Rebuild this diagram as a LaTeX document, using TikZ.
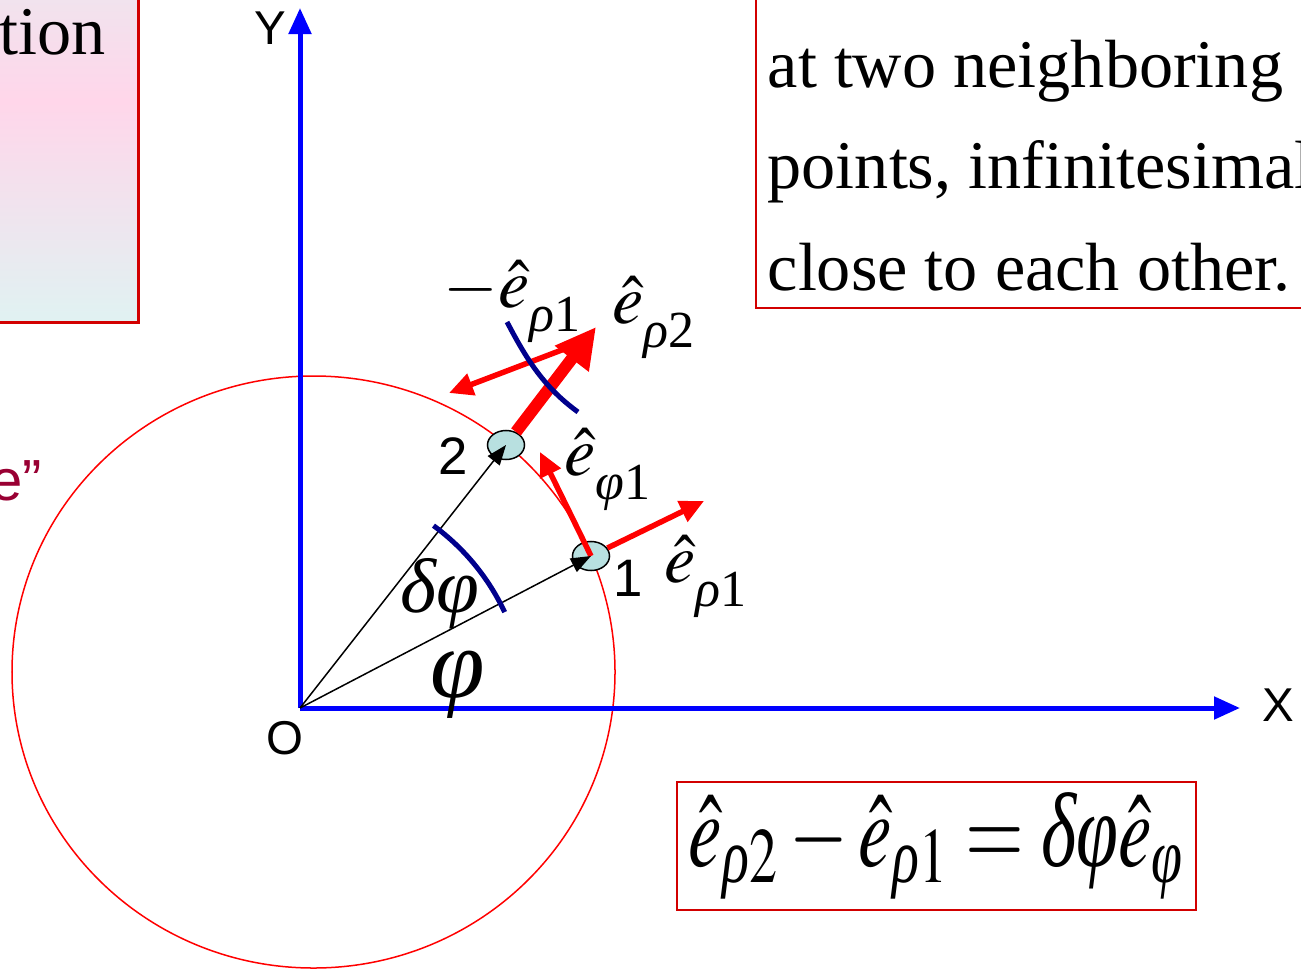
\documentclass[tikz,border=0pt]{standalone}
\usepackage{mathptmx}
\usepackage{amsmath}
\usepackage{graphicx}
\usepackage{fontspec}
\setmainfont{Liberation Serif}
\newfontfamily\arialfont{Liberation Sans}
\usetikzlibrary{positioning,arrows.meta,shapes.geometric}
\newcommand{\grk}[1]{\textit{#1}}
% unit vector with a low-set index
\newcommand{\uvec}[1]{\hat{e}_{\text{\raisebox{-0.6ex}{#1}}}}
\definecolor{axisblue}{RGB}{0,0,255}
\definecolor{arcnavy}{RGB}{0,0,140}
\definecolor{ptfill}{RGB}{184,224,224}
\definecolor{boxred}{RGB}{210,0,0}
\definecolor{quotered}{RGB}{153,0,51}
\definecolor{shpink}{RGB}{255,214,234}
\definecolor{shcyan}{RGB}{224,242,242}
\tikzset{
  axisln/.style={-{Triangle[length=2.6mm,width=2.2mm]},line width=0.5mm,axisblue},
  ray/.style={-{Triangle[length=2mm,width=1.5mm]},line width=0.15mm,black},
  pnt/.style={ellipse,draw=black,fill=ptfill,minimum width=3.7mm,minimum height=2.9mm,inner sep=0pt,line width=0.15mm},
  unitvec/.style={red,line width=0.55mm,-{Triangle[length=2.4mm,width=2.2mm]}},
  bigvec/.style={red,line width=1.2mm,-{Triangle[length=4mm,width=4mm]}},
  angarc/.style={arcnavy,line width=0.5mm},
  sanslbl/.style={font=\arialfont\fontsize{15}{18}\selectfont,inner sep=0pt},
  axlbl/.style={font=\arialfont\fontsize{13.5}{16}\selectfont,inner sep=0pt},
  veclbl/.style={font=\fontsize{20}{24}\selectfont,inner sep=0pt,anchor=base west},
  txtline/.style={font=\fontsize{19.4}{28}\selectfont,inner sep=0pt,anchor=base west},
  framebox/.style={draw=boxred,line width=0.2mm},
}
\begin{document}
\begin{tikzpicture}[x=0.01cm,y=-0.01cm]
  \clip (0,0) rectangle (1301,970);
  % boxes cut by the page edge
  \draw[framebox,line width=0.3mm,top color=shcyan,bottom color=shcyan,middle color=shpink]
    (-60,-120) rectangle (138,322);
  \node[txtline,anchor=base east] (tion) at (106,55) {tion};
  \node[font=\arialfont\fontsize{16.5}{20}\selectfont,text=quotered,inner sep=0pt,anchor=base east]
    (quote) at (43,500) {e”};
  \draw[framebox] (756,-60) rectangle (1360,308);
  \node[txtline] (line1) at (767,88) {at two neighboring};
  \node[txtline] (line2) at (767,188) {points, infinitesimally};
  \node[txtline] (line3) at (767,290) {close to each other.};

  % axes and circle
  \coordinate (O) at (300,708);
  \coordinate (ytip) at (300,8);
  \coordinate (xtip) at (1240,708);
  \draw[red,line width=0.15mm] (313.5,672) ellipse [x radius=301.5,y radius=296];
  \draw[axisln] (O) -- (ytip);
  \draw[axisln] (O) -- (xtip);
  \node[axlbl] (ylbl) at (270,28) {Y};
  \node[axlbl] (xlbl) at (1278,705) {X};
  \node[axlbl] (olbl) at (285,738) {O};

  % the two points and their unit vectors
  \node[pnt] (p1) at (591,556) {};
  \node[pnt] (p2) at (506,445) {};
  \coordinate (rho2tip) at (596,327);
  \coordinate (mrho1start) at (567,348);
  \coordinate (mrho1tip) at (449,393);
  \coordinate (phi1tip) at (540,452);
  \coordinate (rho1tip) at (704,501);
  \draw[bigvec] (p2) -- (rho2tip);
  \draw[unitvec] (mrho1start) -- (mrho1tip);
  \draw[unitvec] (p1) -- (rho1tip);
  \draw[unitvec] (p1.center) -- (phi1tip);
  \draw[ray] (O) -- (p1.center);
  \draw[ray] (O) -- (p2.center);

  % angle marks
  \draw[angarc] (O) ++(-25.1:226) arc[start angle=-25.1,end angle=-53.8,radius=226];
  \draw[angarc] (507,322) .. controls (525,356) and (542,386) .. (578,412);

  % labels
  \node[sanslbl] (n1) at (628,578) {1};
  \node[sanslbl] (n2) at (453,456) {2};
  \node[veclbl] (lmrho1) at (443,307) {$-\uvec{\grk{ρ}1}$};
  \node[veclbl] (lrho2) at (612,323) {$\uvec{\grk{ρ}2}$};
  \node[veclbl] (lphi1) at (564,475) {$\uvec{\grk{φ}1}$};
  \node[veclbl] (lrho1) at (664,582) {$\uvec{\grk{ρ}1}$};
  \node[veclbl,font=\fontsize{22}{24}\selectfont] (ldphi) at (400,612) {\grk{δφ}};
  \node[veclbl,font=\fontsize{28}{30}\selectfont] (lphi) at (430,697) {\grk{φ}};

  % result
  \node[framebox,inner sep=0pt,minimum width=5.19cm,minimum height=1.28cm,font=\fontsize{21.5}{24}\selectfont]
    (eq) at (936.5,846) {\scalebox{1}[1.4]{$\hat{e}_{\grk{ρ}2}-\hat{e}_{\grk{ρ}1}=\grk{δφ}\hat{e}_{\grk{φ}}$}};
\end{tikzpicture}
\end{document}
